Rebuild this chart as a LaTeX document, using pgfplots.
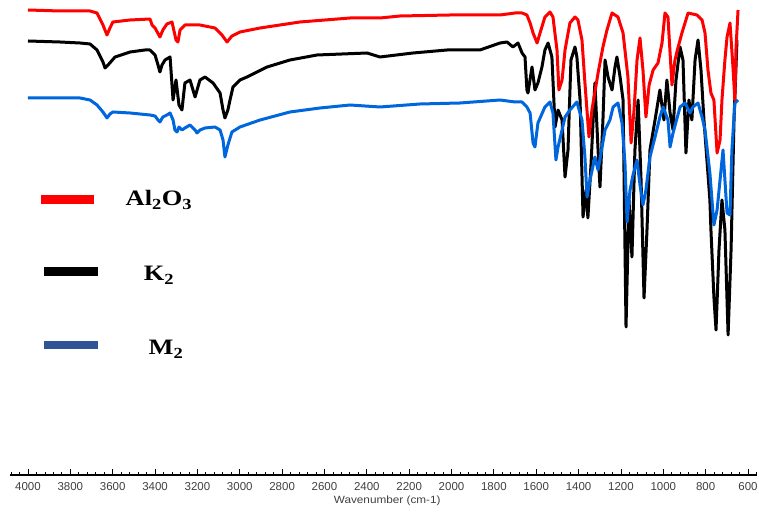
\documentclass[border=0pt]{standalone}
\usepackage{fontspec}
\setmainfont{Liberation Sans}
\newfontfamily\serifb{Liberation Serif}
\usepackage{graphicx}
\usepackage{pgfplots}
\pgfplotsset{compat=1.18}
\definecolor{curvered}{RGB}{255,0,0}
\definecolor{curveblue}{RGB}{0,102,221}
\definecolor{legblue}{RGB}{47,85,151}
\definecolor{labgray}{RGB}{64,64,64}
\begin{document}
\begin{tikzpicture}
\useasboundingbox (-10pt,-38pt) rectangle (749pt,475pt);
\begin{axis}[
 scale only axis, width=747pt, height=475pt,
 x dir=reverse, xmin=557.5, xmax=4085, ymin=-5, ymax=470,
 hide y axis, axis x line*=bottom,
 x axis line style={line width=1.6pt},
 xtick={400,600,...,4200}, minor x tick num=4,
 tick align=inside, major tick length=6pt, minor tick length=3.5pt,
 every tick/.style={line width=0.8pt, black},
 xticklabel style={font=\fontsize{11.5}{13}\selectfont, text=labgray, yshift=-3.5pt},
 /pgf/number format/assume math mode=true,
 /pgf/number format/1000 sep={},
 xlabel={\scalebox{1.12}[1]{Wavenumber (cm-1)}},
 xlabel style={font=\fontsize{10.5}{12}\selectfont, text=labgray, at={(axis description cs:0.505,0)}, anchor=center, yshift=-26pt},
 every axis plot/.append style={line width=3pt, line join=round},
]
% K2 (black)
\addplot[black] coordinates {(4000,429)(3849,428)(3754,427)(3707,426)(3674,420)(3646,408)(3636,402)(3622,405)(3589,413)(3518,418)(3448,420)(3424,420)(3400,415)(3386,405)(3377,398)(3367,405)(3353,410)(3329,413)(3315,370)(3301,390)(3287,365)(3273,360)(3259,387)(3235,390)(3211,373)(3188,390)(3164,393)(3126,387)(3093,377)(3079,360)(3070,352)(3056,360)(3046,370)(3032,383)(2999,390)(2966,393)(2871,403)(2763,410)(2635,415)(2399,417)(2338,413)(2182,417)(2021,420)(1866,420)(1771,427)(1738,428)(1710,423)(1686,427)(1667,417)(1653,413)(1644,380)(1639,377)(1620,403)(1606,380)(1592,387)(1573,403)(1559,420)(1544,427)(1526,413)(1511,343)(1497,360)(1478,350)(1464,293)(1450,320)(1436,410)(1417,423)(1408,413)(1393,370)(1379,253)(1365,280)(1356,252)(1341,307)(1323,387)(1308,320)(1299,283)(1285,350)(1275,410)(1261,393)(1242,380)(1228,403)(1219,413)(1204,393)(1190,370)(1176,143)(1162,270)(1148,213)(1134,320)(1119,370)(1105,290)(1091,172)(1077,240)(1063,320)(1039,350)(1016,380)(997,350)(983,390)(968,357)(954,340)(940,390)(921,423)(907,410)(893,317)(879,370)(865,350)(850,410)(836,430)(822,400)(808,350)(794,310)(780,270)(775,240)(761,173)(751,140)(737,220)(723,270)(709,240)(694,135)(680,220)(666,350)(652,430)};
% M2 (blue)
\addplot[curveblue] coordinates {(4000,372)(3754,372)(3707,370)(3674,365)(3646,358)(3627,352)(3613,356)(3599,358)(3518,357)(3424,355)(3400,354)(3386,350)(3377,348)(3363,353)(3344,355)(3329,357)(3315,350)(3306,340)(3296,338)(3287,343)(3273,340)(3259,342)(3235,345)(3211,340)(3202,337)(3188,340)(3164,342)(3117,343)(3093,340)(3079,330)(3070,313)(3056,325)(3037,338)(2999,343)(2904,350)(2763,358)(2621,362)(2479,365)(2338,363)(2149,366)(1960,367)(1771,370)(1700,368)(1667,368)(1644,363)(1629,357)(1615,327)(1606,323)(1592,347)(1559,363)(1535,368)(1521,357)(1507,310)(1497,323)(1478,340)(1464,353)(1441,360)(1408,368)(1384,350)(1370,313)(1360,273)(1346,290)(1323,313)(1308,300)(1289,323)(1275,340)(1252,350)(1237,363)(1214,367)(1195,347)(1181,307)(1171,248)(1157,280)(1143,295)(1124,310)(1110,285)(1096,265)(1082,280)(1063,313)(1039,333)(1016,353)(1001,363)(978,350)(968,323)(954,337)(921,363)(897,367)(874,357)(860,363)(836,367)(817,353)(803,340)(780,297)(761,245)(746,260)(732,290)(718,320)(699,257)(685,255)(676,320)(662,367)(647,370)};
% Al2O3 (red)
\addplot[curvered] coordinates {(4000,460)(3849,459)(3707,459)(3674,457)(3646,445)(3627,435)(3613,442)(3599,448)(3518,450)(3424,451)(3414,445)(3400,442)(3377,433)(3363,440)(3344,446)(3320,448)(3301,430)(3292,428)(3282,440)(3259,445)(3188,445)(3117,442)(3084,435)(3060,428)(3037,434)(2999,438)(2904,442)(2716,448)(2479,452)(2338,452)(2243,454)(2007,455)(1866,455)(1771,455)(1700,457)(1667,457)(1644,455)(1629,447)(1615,437)(1596,427)(1582,437)(1559,453)(1535,458)(1521,453)(1502,420)(1493,380)(1478,390)(1464,420)(1441,447)(1417,453)(1403,450)(1384,430)(1370,387)(1351,333)(1337,360)(1308,397)(1285,423)(1266,440)(1242,457)(1214,453)(1190,437)(1167,393)(1152,327)(1138,360)(1124,410)(1110,432)(1096,400)(1082,353)(1067,385)(1048,400)(1025,407)(1006,427)(992,457)(978,453)(959,385)(945,410)(931,422)(912,437)(883,457)(841,455)(817,450)(803,437)(789,400)(775,377)(761,370)(746,317)(732,330)(723,370)(709,410)(699,433)(685,447)(671,403)(662,370)(657,420)(647,460)};
\end{axis}
% legend
\draw[curvered, line width=9pt] (31pt,275pt) -- (84pt,275pt);
\draw[black, line width=9pt] (34pt,203pt) -- (88pt,203pt);
\draw[legblue, line width=8pt] (34pt,130pt) -- (88pt,130pt);
\node[anchor=base, inner sep=0pt, font=\serifb\bfseries\fontsize{22}{26}\selectfont] at (149pt,269pt) {\scalebox{1.2}[1]{Al\textsubscript{2}O\textsubscript{3}}};
\node[anchor=base, inner sep=0pt, font=\serifb\bfseries\fontsize{22}{26}\selectfont] at (149pt,194pt) {\scalebox{1.2}[1]{K\textsubscript{2}}};
\node[anchor=base, inner sep=0pt, font=\serifb\bfseries\fontsize{22}{26}\selectfont] at (156pt,120pt) {\scalebox{1.2}[1]{M\textsubscript{2}}};
\end{tikzpicture}
\end{document}
